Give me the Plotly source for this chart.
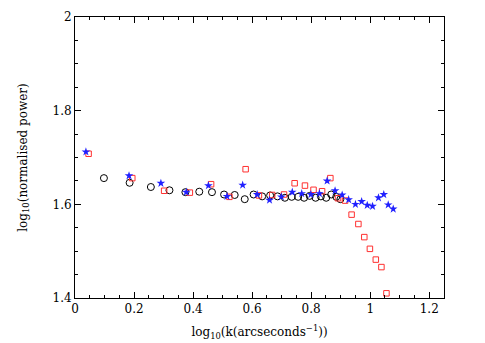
import plotly.graph_objects as go

circ_x = [0.098, 0.185, 0.257, 0.320, 0.374, 0.421, 0.464, 0.505, 0.541, 0.575, 0.605, 0.634, 0.661, 0.686,
          0.711, 0.734, 0.756, 0.776, 0.795, 0.815, 0.833, 0.851, 0.868, 0.885, 0.899]
circ_y = [1.656, 1.646, 1.637, 1.630, 1.626, 1.627, 1.626, 1.621, 1.620, 1.611, 1.621, 1.617, 1.619, 1.617,
          1.614, 1.616, 1.616, 1.614, 1.618, 1.614, 1.617, 1.614, 1.621, 1.616, 1.611]

sq_x = [0.046, 0.194, 0.302, 0.389, 0.461, 0.523, 0.578, 0.623, 0.668, 0.708, 0.744, 0.779, 0.808, 0.837,
        0.865, 0.891, 0.915, 0.937, 0.960, 0.980, 0.999, 1.019, 1.038, 1.055]
sq_y = [1.708, 1.656, 1.629, 1.625, 1.643, 1.616, 1.675, 1.619, 1.620, 1.621, 1.645, 1.640, 1.631, 1.628,
        1.656, 1.613, 1.608, 1.578, 1.558, 1.530, 1.505, 1.482, 1.466, 1.410]

star_x = [0.037, 0.183, 0.291, 0.377, 0.452, 0.515, 0.568, 0.617, 0.659, 0.699, 0.736, 0.768, 0.799, 0.828,
          0.854, 0.881, 0.905, 0.927, 0.950, 0.971, 0.990, 1.008, 1.028, 1.046, 1.061, 1.078]
star_y = [1.712, 1.661, 1.645, 1.626, 1.640, 1.617, 1.641, 1.621, 1.609, 1.616, 1.626, 1.623, 1.621, 1.623,
          1.650, 1.629, 1.620, 1.610, 1.600, 1.606, 1.598, 1.596, 1.614, 1.621, 1.599, 1.590]

x_tickvals = [0, 0.2, 0.4, 0.6, 0.8, 1.0, 1.2]
x_ticktext = ["0", "0.2", "0.4", "0.6", "0.8", "1", "1.2"]
y_tickvals = [1.4, 1.6, 1.8, 2.0]
y_ticktext = ["1.4", "1.6", "1.8", "2"]

fig = go.Figure()
fig.add_trace(go.Scatter(x=circ_x, y=circ_y, mode="markers",
                         marker=dict(symbol="circle-open", size=7, color="black", line=dict(width=1))))
fig.add_trace(go.Scatter(x=sq_x, y=sq_y, mode="markers",
                         marker=dict(symbol="square-open", size=5.5, color="#ff3030", line=dict(width=1))))
fig.add_trace(go.Scatter(x=star_x, y=star_y, mode="markers",
                         marker=dict(symbol="star", size=6.5, color="#2020ff", line=dict(width=0))))

font = dict(family="DejaVu Serif", size=12, color="black")
axis_common = dict(showgrid=False, zeroline=False, showline=True, linecolor="black", linewidth=1,
                   mirror="allticks", ticks="inside", ticklen=6, tickcolor="black", tickwidth=1,
                   tickfont=font)
fig.update_xaxes(range=[0, 1.25], tickvals=x_tickvals, ticktext=x_ticktext,
                 minor=dict(ticks="inside", dtick=0.05, ticklen=3, tickcolor="black"),
                 title=dict(text="log<sub>10</sub>(k(arcseconds<sup>−1</sup>))", font=font, standoff=12),
                 **axis_common)
fig.update_yaxes(range=[1.4, 2.0], tickvals=y_tickvals, ticktext=y_ticktext,
                 minor=dict(ticks="inside", dtick=0.05, ticklen=3, tickcolor="black"),
                 title=dict(text="log<sub>10</sub>(normalised power)", font=font, standoff=22),
                 **axis_common)
# page body has an 8px default margin, so the figure is offset by 8px
fig.update_layout(width=477, height=335, showlegend=False, plot_bgcolor="white", paper_bgcolor="white",
                  margin=dict(l=67, r=41, t=9, b=45, autoexpand=False), font=font)
fig.write_html("out.html")
